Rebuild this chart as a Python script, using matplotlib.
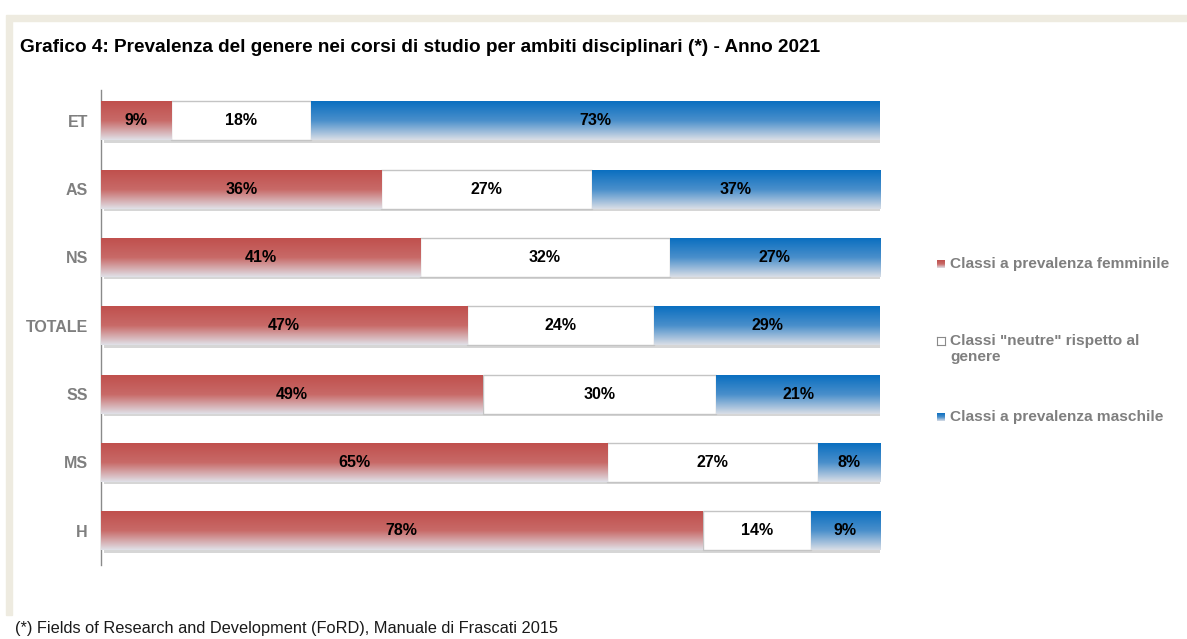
import numpy as np
import matplotlib.pyplot as plt
import matplotlib.patheffects as pe
from matplotlib.patches import Rectangle
from matplotlib.colors import LinearSegmentedColormap

plt.rcParams['font.family'] = ['Liberation Sans', 'DejaVu Sans']

categories = ['ET', 'AS', 'NS', 'TOTALE', 'SS', 'MS', 'H']
femminile = [9, 36, 41, 47, 49, 65, 78]
neutre = [18, 27, 32, 24, 30, 27, 14]
maschile = [73, 37, 27, 29, 21, 8, 9]

series_names = ['Classi a prevalenza femminile',
                'Classi "neutre" rispetto al\ngenere',
                'Classi a prevalenza maschile']
title = ('Grafico 4: Prevalenza del genere nei corsi di studio per ambiti '
         'disciplinari (*) - Anno 2021')
note = '(*) Fields of Research and Development (FoRD), Manuale di Frascati 2015'

W, H = 1187, 639
red_cmap = LinearSegmentedColormap.from_list('red_fade', ['#c0504d', '#c86a68', '#e0e1e8'])
blue_cmap = LinearSegmentedColormap.from_list('blue_fade', ['#0a6fc0', '#4a8fcb', '#dadee6'])
gradient = np.linspace(0, 1, 256).reshape(-1, 1)

fig = plt.figure(figsize=(W / 100, H / 100), dpi=100)

# beige frame along the top and left edges
fig.patches.append(Rectangle((6 / W, 1 - 21 / H), 1 - 6 / W, 6 / H,
                             transform=fig.transFigure, color='#eeebe0', zorder=0))
fig.patches.append(Rectangle((6 / W, 1 - 615 / H), 6 / W, 594 / H,
                             transform=fig.transFigure, color='#eeebe0', zorder=0))

ax = fig.add_axes([101 / W, 1 - 565 / H, 779 / W, 475 / H])

vals = np.array([femminile, neutre, maschile], dtype=float)
shares = vals / vals.sum(axis=0) * 100
lefts = np.vstack([np.zeros(len(categories)), np.cumsum(shares, axis=0)[:-1]])
y = np.arange(len(categories))

shadow = [pe.SimplePatchShadow(offset=(1.8, -1.8), shadow_rgbFace='#9a9a9a', alpha=0.4),
          pe.Normal()]

for i, cmap in enumerate([red_cmap, None, blue_cmap]):
    bars = ax.barh(y, shares[i], left=lefts[i], height=0.57, color='white',
                   edgecolor='#c4c4c4' if cmap is None else 'none',
                   linewidth=1, zorder=2)
    for bar, v in zip(bars, vals[i]):
        bar.set_path_effects(shadow)
        x0, y0 = bar.get_x(), bar.get_y()
        w, h = bar.get_width(), bar.get_height()
        if cmap is not None:
            im = ax.imshow(gradient, cmap=cmap, aspect='auto',
                           extent=(x0, x0 + w, y0 + h, y0), zorder=3)
            im.set_clip_path(bar)
        ax.text(x0 + w / 2, y0 + h / 2, f'{int(v)}%', ha='center', va='center',
                fontsize=11.5, fontweight='bold', color='black', zorder=4)

ax.set_xlim(0, 100)
ax.set_ylim(6.5, -0.45)
ax.set_yticks(y, categories)
ax.tick_params(axis='y', left=False, pad=6, labelcolor='#7f7f7f', labelsize=11.5)
for lbl in ax.get_yticklabels():
    lbl.set_fontweight('bold')
ax.xaxis.set_visible(False)
for side in ['top', 'right', 'bottom']:
    ax.spines[side].set_visible(False)
ax.spines['left'].set_color('#8a8a8a')
ax.spines['left'].set_linewidth(1)

# legend on the right
legend_y = [264, 349, 417]
for name, cmap, ly in zip(series_names, [red_cmap, None, blue_cmap], legend_y):
    top = ly - 8 if '\n' in name else ly
    sw = fig.add_axes([937 / W, 1 - (top + 4) / H, 8 / W, 8 / H])
    if cmap is not None:
        sw.imshow(gradient, cmap=cmap, aspect='auto')
        sw.set_axis_off()
    else:
        sw.set_xticks([])
        sw.set_yticks([])
        for s in sw.spines.values():
            s.set_color('#8a8a8a')
            s.set_linewidth(0.8)
    fig.text(950 / W, 1 - ly / H, name, ha='left', va='center', fontsize=11.1,
             fontweight='bold', color='#7f7f7f', linespacing=1.15)

fig.text(20 / W, 1 - 47 / H, title, ha='left', va='center', fontsize=13.65,
         fontweight='bold', color='black')
fig.text(15 / W, 1 - 628 / H, note, ha='left', va='center', fontsize=11.75,
         color='#1a1a1a')

fig.savefig('out.png', dpi=100)
